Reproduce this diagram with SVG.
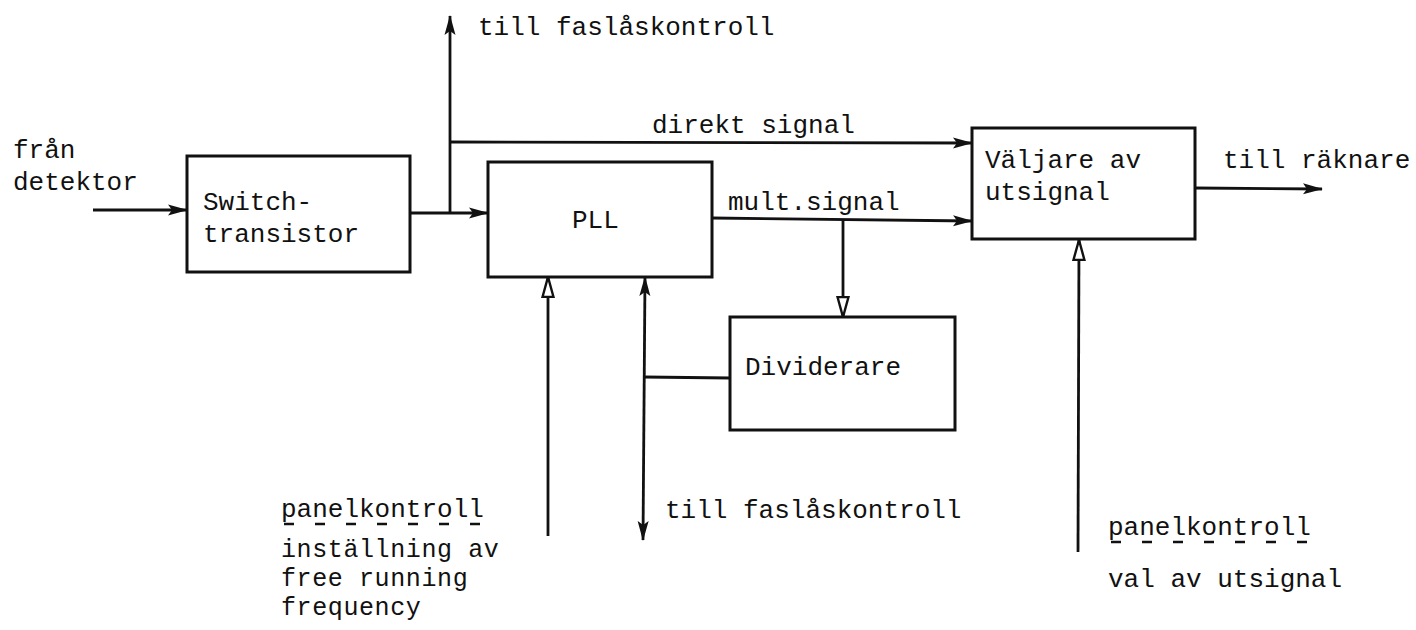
<svg xmlns="http://www.w3.org/2000/svg" width="1416" height="630" viewBox="0 0 1416 630">
<defs>
<style>
text{font-family:"Liberation Mono","DejaVu Sans Mono",monospace;font-size:26px;fill:#111}
.sm{font-size:25px;letter-spacing:0.6px}
.box{fill:none;stroke:#111;stroke-width:3}
.ln{fill:none;stroke:#111;stroke-width:2.8}
.dash{stroke:#111;stroke-width:2.4}
</style>
<marker id="ah" viewBox="0 0 20 12" refX="19" refY="6" markerWidth="20" markerHeight="12" markerUnits="userSpaceOnUse" orient="auto-start-reverse">
<path d="M0,0.5 L20,6 L0,11.5 L4,6 Z" fill="#111"/>
</marker>
<marker id="ao" viewBox="0 0 22 14" refX="21" refY="7" markerWidth="22" markerHeight="14" markerUnits="userSpaceOnUse" orient="auto-start-reverse">
<path d="M1,1.5 L21,7 L1,12.5 Z" fill="#fff" stroke="#111" stroke-width="2.4"/>
</marker>
</defs>
<rect width="1416" height="630" fill="#fff"/>

<g id="connectors">
<line class="ln" x1="93" y1="210" x2="187" y2="210" marker-end="url(#ah)"/>
<line class="ln" x1="410" y1="213" x2="488" y2="213" marker-end="url(#ah)"/>
<line class="ln" x1="450" y1="213" x2="450" y2="16" marker-end="url(#ah)"/>
<line class="ln" x1="450" y1="142" x2="972" y2="143" marker-end="url(#ah)"/>
<line class="ln" x1="712" y1="218" x2="972" y2="221" marker-end="url(#ah)"/>
<line class="ln" x1="843" y1="219" x2="843" y2="317" marker-end="url(#ao)"/>
<line class="ln" x1="1195" y1="188" x2="1322" y2="189" marker-end="url(#ah)"/>
<line class="ln" x1="548" y1="536" x2="548" y2="277" marker-end="url(#ao)"/>
<line class="ln" x1="643" y1="540" x2="645" y2="277" marker-start="url(#ah)" marker-end="url(#ah)"/>
<line class="ln" x1="644" y1="377" x2="730" y2="378"/>
<line class="ln" x1="1078" y1="552" x2="1079" y2="240" marker-end="url(#ao)"/>
</g>

<g id="switch">
<rect class="box" x="187" y="156" width="223" height="116"/>
<text x="203" y="210">Switch-</text>
<text x="203" y="242">transistor</text>
</g>

<g id="pll">
<rect class="box" x="488" y="162" width="224" height="115"/>
<text x="572" y="228">PLL</text>
</g>

<g id="dividerare">
<rect class="box" x="730" y="317" width="225" height="113"/>
<text x="745" y="375">Dividerare</text>
</g>

<g id="valjare">
<rect class="box" x="972" y="128" width="223" height="111"/>
<text x="985" y="168">Väljare av</text>
<text x="985" y="200">utsignal</text>
</g>

<g id="labels">
<text x="13" y="158">från</text>
<text x="13" y="190">detektor</text>
<text x="478" y="35">till faslåskontroll</text>
<text x="652" y="133">direkt signal</text>
<text x="728" y="210">mult.signal</text>
<text x="1223" y="168">till räknare</text>
<text x="665" y="518">till faslåskontroll</text>
<text x="281" y="517">panelkontroll</text>
<text class="sm" x="281" y="557">inställning av</text>
<text class="sm" x="281" y="586">free running</text>
<text class="sm" x="281" y="615">frequency</text>
<text x="1108" y="535">panelkontroll</text>
<text x="1108" y="587">val av utsignal</text>
</g>

<g id="underlines">
<path class="dash" d="M284,524h10 M315,524h10 M346,524h10 M377,524h10 M408,524h10 M439,524h10 M470,524h10"/>
<path class="dash" d="M1111,542h10 M1142,542h10 M1173,542h10 M1204,542h10 M1235,542h10 M1266,542h10 M1297,542h10"/>
</g>
</svg>
